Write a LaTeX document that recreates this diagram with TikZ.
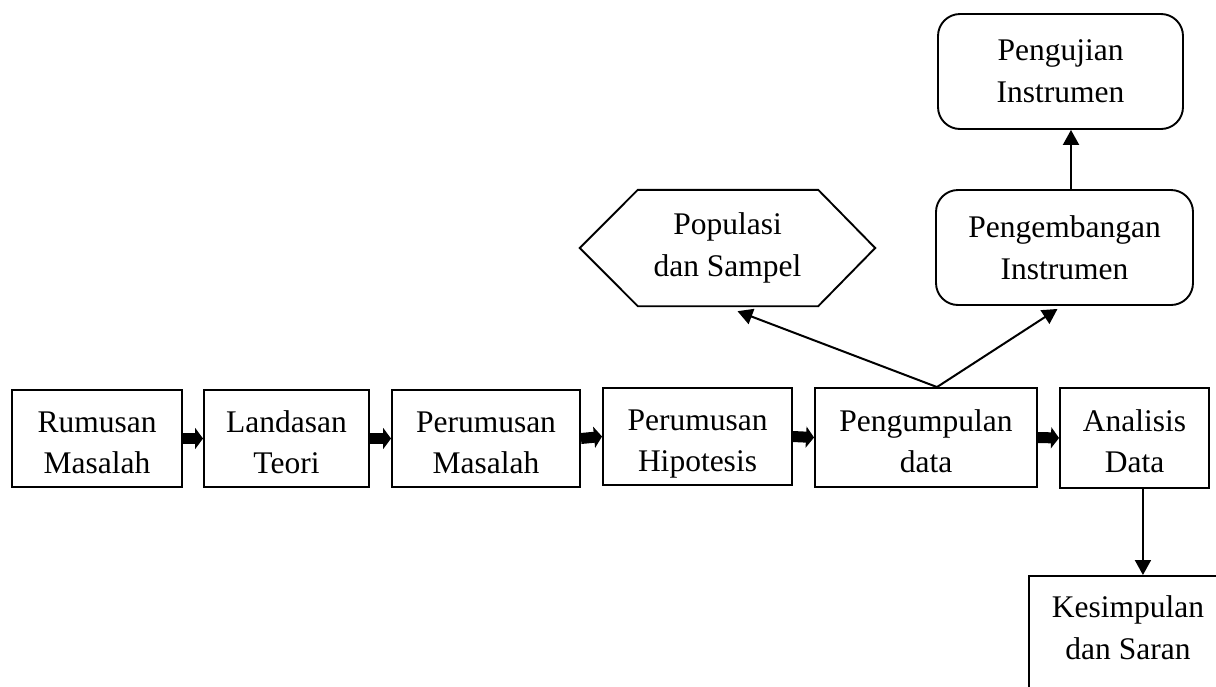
\documentclass[tikz,border=0pt]{standalone}
\usepackage{fontspec}
\setmainfont{Liberation Serif}
\usetikzlibrary{arrows.meta}
\newcommand\rowtop{\rule{0pt}{35pt}}
\newcommand\rowbot{\rule[-7pt]{0pt}{7pt}}
\begin{document}
\begin{tikzpicture}[x=1pt,y=-1pt,
  txt/.style={align=center,inner sep=0pt,font=\fontsize{31.5}{42}\selectfont},
  box/.style={txt,draw,line width=1.9pt},
  rowbox/.style={box,font=\fontsize{31.5}{41}\selectfont},
  rbox/.style={box,rounded corners=22pt},
  blk/.style={line width=11pt,-{Triangle[length=8pt,width=21pt]}},
  con/.style={line width=2pt,-{Triangle[length=15pt,width=16pt]}}]
\useasboundingbox (0,0) rectangle (1216,686);
% main row
\node[rowbox,minimum width=170pt,minimum height=97pt] (r1) at (97,438.5) {\rowtop Rumusan\\Masalah\rowbot};
\node[rowbox,minimum width=165pt,minimum height=97pt] (r2) at (286.5,438.5) {\rowtop Landasan\\Teori\rowbot};
\node[rowbox,minimum width=188pt,minimum height=97pt] (r3) at (486,438.5) {\rowtop Perumusan\\Masalah\rowbot};
\node[rowbox,minimum width=189pt,minimum height=97pt] (r4) at (697.5,436.5) {\rowtop Perumusan\\Hipotesis\rowbot};
\node[rowbox,minimum width=222pt,minimum height=99pt] (r5) at (926,437.5) {\rowtop Pengumpulan\\data\rowbot};
\node[rowbox,minimum width=149pt,minimum height=100pt] (r6) at (1134.5,438) {\rowtop Analisis\\Data\rowbot};
% upper nodes
\node[txt,minimum width=295pt,minimum height=116pt] (pop) at (727.5,248) {Populasi\\dan Sampel};
\draw[line width=1.9pt] (pop.west) -- ([xshift=58pt]pop.north west) -- ([xshift=-57pt]pop.north east)
  -- (pop.east) -- ([xshift=-57pt]pop.south east) -- ([xshift=58pt]pop.south west) -- cycle;
\node[rbox,minimum width=257pt,minimum height=115pt] (peng) at (1064.5,247.5) {Pengembangan\\Instrumen};
\node[rbox,minimum width=245pt,minimum height=115pt] (uji) at (1060.5,71.5) {Pengujian\\Instrumen};
% bottom right
\node[draw,line width=1.9pt,anchor=north west,minimum width=228pt,minimum height=150pt,inner sep=0pt] (kes) at (1028,575) {};
\node[txt] (kestxt) at (1128,628) {Kesimpulan\\dan Saran};
% block arrows
\draw[blk] (r1.east) -- (r2.west);
\draw[blk] (r2.east) -- (r3.west);
\draw[blk] (r3.east) -- (r4.west);
\draw[blk] (r4.east) -- (r5.west);
\draw[blk] (r5.east) -- (r6.west);
% connectors
\coordinate (src) at ([xshift=11pt]r5.north);
\draw[con] (src) -- ([xshift=10pt,yshift=-5pt]pop.south);
\draw[con] (src) -- ([xshift=-7pt,yshift=-3pt]peng.south);
\draw[con] ([xshift=6.5pt]peng.north) -- ([xshift=6.5pt]peng.north |- uji.south);
\draw[con] (kes.north |- r6.south) -- (kes.north);
\end{tikzpicture}
\end{document}
